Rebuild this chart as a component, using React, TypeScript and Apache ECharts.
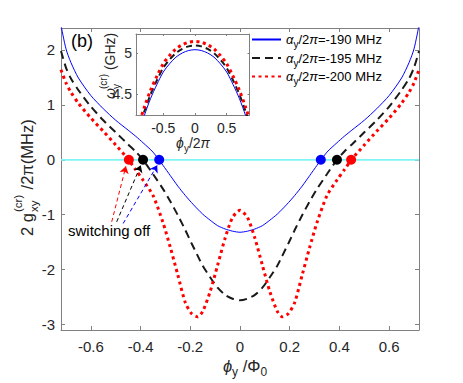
import React, { useEffect, useRef } from 'react';
import * as echarts from 'echarts';

const FONT = '"Liberation Sans", Arial, Helvetica, sans-serif';

// main panel: flux phi_y / Phi_0
const phi = [-0.72, -0.70, -0.68, -0.65, -0.60, -0.55, -0.50, -0.45, -0.42, -0.39, -0.35, -0.31, -0.28, -0.25, -0.22, -0.195, -0.17, -0.15, -0.12, -0.09, -0.06, -0.03, 0, 0.03, 0.06, 0.09, 0.12, 0.15, 0.17, 0.195, 0.22, 0.25, 0.28, 0.31, 0.35, 0.39, 0.42, 0.45, 0.50, 0.55, 0.60, 0.65, 0.68, 0.70, 0.72];
const g190 = [2.45, 2.02, 1.77, 1.49, 1.17, 0.93, 0.72, 0.54, 0.43, 0.31, 0.14, -0.10, -0.29, -0.48, -0.65, -0.78, -0.90, -0.99, -1.10, -1.20, -1.26, -1.30, -1.32, -1.30, -1.26, -1.20, -1.10, -0.99, -0.90, -0.78, -0.65, -0.48, -0.29, -0.10, 0.14, 0.31, 0.43, 0.54, 0.72, 0.93, 1.17, 1.49, 1.77, 2.02, 2.45];
const g195 = [1.98, 1.68, 1.48, 1.27, 0.97, 0.72, 0.50, 0.28, 0.15, 0, -0.26, -0.53, -0.76, -1.01, -1.28, -1.52, -1.75, -1.93, -2.14, -2.33, -2.46, -2.53, -2.56, -2.53, -2.46, -2.33, -2.14, -1.93, -1.75, -1.52, -1.28, -1.01, -0.76, -0.53, -0.26, 0, 0.15, 0.28, 0.50, 0.72, 0.97, 1.27, 1.48, 1.68, 1.98];
const g200 = [1.64, 1.40, 1.23, 1.03, 0.76, 0.52, 0.27, 0.01, -0.18, -0.37, -0.65, -1.14, -1.60, -2.10, -2.60, -2.80, -2.86, -2.76, -2.40, -1.92, -1.43, -1.05, -0.92, -1.05, -1.43, -1.92, -2.40, -2.76, -2.86, -2.80, -2.60, -2.10, -1.60, -1.14, -0.65, -0.37, -0.18, 0.01, 0.27, 0.52, 0.76, 1.03, 1.23, 1.40, 1.64];

// switching-off points (zero crossings)
const off190 = [-0.325, 0.325];
const off195 = [-0.39, 0.39];
const off200 = [-0.447, 0.447];
const zeroLine = [-0.72, 0.72];

// arrows: from text to points
const arrowFrom = [[-0.516, -1.13], [-0.496, -1.13], [-0.470, -1.16]];
const arrowTo = [[-0.459, -0.12], [-0.399, -0.10], [-0.333, -0.10]];
const arrowColors = ['#ff0000', '#000000', '#0000ff'];

// inset: omega_y^(cr) vs phi_y/2pi
const phiInset = [-0.9, -0.8, -0.7, -0.6, -0.5, -0.4, -0.3, -0.2, -0.1, 0, 0.1, 0.2, 0.3, 0.4, 0.5, 0.6, 0.7, 0.8, 0.9];
const w190 = [4.00, 4.24, 4.45, 4.62, 4.77, 4.87, 4.95, 5.00, 5.03, 5.04, 5.03, 5.00, 4.95, 4.87, 4.77, 4.62, 4.45, 4.24, 4.00];
const w195 = [4.05, 4.29, 4.50, 4.67, 4.82, 4.92, 5.00, 5.05, 5.08, 5.09, 5.08, 5.05, 5.00, 4.92, 4.82, 4.67, 4.50, 4.29, 4.05];
const w200 = [4.10, 4.34, 4.55, 4.72, 4.87, 4.97, 5.05, 5.10, 5.13, 5.14, 5.13, 5.10, 5.05, 4.97, 4.87, 4.72, 4.55, 4.34, 4.10];

const seriesNames = ['-190 MHz', '-195 MHz', '-200 MHz'];

const AX = '#808080';
const TXT = '#262626';

const pairs = (xs: number[], ys: number[]) => xs.map((x, i) => [x, ys[i]]);
const multipleOf = (v: number, s: number) => Math.abs(v / s - Math.round(v / s)) < 1e-6;
const fmt = (v: number) => String(+v.toFixed(1));

function axisCommon(grid: number, min: number, max: number, split: number, tickLen: number) {
  return {
    type: 'value',
    gridIndex: grid,
    min,
    max,
    splitNumber: split,
    axisLine: { show: true, onZero: false, lineStyle: { color: AX, width: 1 } },
    axisTick: { show: true, inside: true, length: tickLen, lineStyle: { color: AX, width: 1 } },
    splitLine: { show: false },
    minorTick: { show: false },
  };
}

export default function App() {
  const ref = useRef<HTMLDivElement>(null);
  useEffect(() => {
    document.body.style.margin = '0';
    const chart = echarts.init(ref.current!, null, { renderer: 'svg' });
    const mainLine = (name: string, ys: number[], color: string, width: number, type: any) => ({
      name,
      type: 'line',
      xAxisIndex: 0,
      yAxisIndex: 0,
      data: pairs(phi, ys),
      showSymbol: false,
      symbol: 'none',
      smooth: 0.25,
      clip: true,
      z: 2,
      lineStyle: { color, width, type, cap: 'butt' },
      itemStyle: { color },
    });
    const insetLine = (name: string, ys: number[], color: string, width: number, type: any) => ({
      name,
      type: 'line',
      xAxisIndex: 2,
      yAxisIndex: 2,
      data: pairs(phiInset, ys),
      showSymbol: false,
      symbol: 'none',
      smooth: 0.3,
      clip: true,
      z: 6,
      lineStyle: { color, width, type, cap: 'butt' },
    });
    const dots = (xs: number[], color: string) => ({
      type: 'scatter',
      xAxisIndex: 0,
      yAxisIndex: 0,
      data: xs.map((x) => [x, 0]),
      symbol: 'circle',
      symbolSize: 10,
      z: 4,
      itemStyle: { color, opacity: 1 },
      silent: true,
    });

    const option: any = {
      animation: false,
      backgroundColor: '#ffffff',
      textStyle: { fontFamily: FONT },
      grid: [
        { left: 61, top: 28, width: 358, height: 302, outerBoundsMode: 'none', containLabel: false },
        { left: 136, top: 34, width: 113.5, height: 81, outerBoundsMode: 'none', containLabel: false, show: true, backgroundColor: '#ffffff', borderWidth: 0, z: 3 },
      ],
      xAxis: [
        {
          ...axisCommon(0, -0.72, 0.72, 7, 4),
          position: 'bottom',
          axisLabel: { show: true, margin: 9, fontSize: 15, color: TXT, fontFamily: FONT, formatter: (v: number) => (multipleOf(v, 0.2) ? fmt(v) : '') },
        },
        { ...axisCommon(0, -0.72, 0.72, 7, 4), position: 'top', axisLabel: { show: false } },
        {
          ...axisCommon(1, -0.93, 0.86, 3, 2),
          position: 'bottom',
          z: 5,
          axisLabel: { show: true, margin: 6, fontSize: 14, color: TXT, fontFamily: FONT, formatter: (v: number) => (multipleOf(v, 0.5) ? fmt(v) : '') },
        },
        { ...axisCommon(1, -0.93, 0.86, 3, 2), position: 'top', z: 5, axisLabel: { show: false } },
      ],
      yAxis: [
        {
          ...axisCommon(0, -3.1, 2.4, 5, 4),
          position: 'left',
          axisLabel: { show: true, margin: 6, fontSize: 15, color: TXT, fontFamily: FONT, formatter: (v: number) => (multipleOf(v, 1) ? String(Math.round(v)) : '') },
        },
        { ...axisCommon(0, -3.1, 2.4, 5, 4), position: 'right', axisLabel: { show: false } },
        {
          ...axisCommon(1, 4.25, 5.23, 2, 2),
          position: 'left',
          z: 5,
          axisLabel: { show: true, margin: 4, fontSize: 14, color: TXT, fontFamily: FONT, formatter: (v: number) => (multipleOf(v, 0.5) ? fmt(v) : '') },
        },
        { ...axisCommon(1, 4.25, 5.23, 2, 2), position: 'right', z: 5, axisLabel: { show: false } },
      ],
      legend: {
        data: seriesNames,
        orient: 'vertical',
        left: 251,
        top: 33,
        padding: 0,
        itemGap: 2,
        itemWidth: 29,
        itemHeight: 12,
        selectedMode: false,
        itemStyle: { opacity: 0, borderWidth: 0 },
        formatter: (name: string) => `{i|α}{s|y}{a|/2}{i|π}{a|=${name}}`,
        textStyle: {
          fontFamily: FONT,
          fontSize: 13,
          color: '#000',
          rich: {
            a: { fontFamily: FONT, fontSize: 13, lineHeight: 20, color: '#000' },
            i: { fontFamily: FONT, fontSize: 13, fontStyle: 'italic', lineHeight: 20, color: '#000' },
            s: { fontFamily: FONT, fontSize: 10, lineHeight: 10, verticalAlign: 'bottom', color: '#000' },
          },
        },
      },
      series: [
        {
          name: 'zero',
          type: 'line',
          xAxisIndex: 0,
          yAxisIndex: 0,
          data: zeroLine.map((x) => [x, 0]),
          showSymbol: false,
          symbol: 'none',
          z: 1,
          lineStyle: { color: '#80f4f4', width: 1.8 },
          markLine: {
            silent: true,
            animation: false,
            symbol: ['none', 'arrow'],
            symbolSize: 7,
            label: { show: false },
            data: arrowFrom.map((f, i) => [
              { coord: f, lineStyle: { color: arrowColors[i], type: [4, 3], width: 1 }, itemStyle: { color: arrowColors[i] } },
              { coord: arrowTo[i] },
            ]),
          },
        },
        mainLine(seriesNames[0], g190, '#0000ff', 1, 'solid'),
        mainLine(seriesNames[1], g195, '#1a1a1a', 2, [8, 5]),
        mainLine(seriesNames[2], g200, '#ff0000', 3, [3, 3.5]),
        dots(off190, '#0000ff'),
        dots(off195, '#000000'),
        dots(off200, '#ff0000'),
        insetLine('i190', w190, '#0000ff', 1, 'solid'),
        insetLine('i195', w195, '#1a1a1a', 2, [6, 4]),
        insetLine('i200', w200, '#ff0000', 3, [3, 3.5]),
      ],
      graphic: [
        { type: 'text', left: 71, top: 32, z: 10, style: { text: '(b)', font: `18px ${FONT}`, fill: '#000' } },
        { type: 'text', x: 68, y: 230, z: 10, style: { text: 'switching off', font: `15px ${FONT}`, fill: '#000', textAlign: 'left', textVerticalAlign: 'middle' } },
        {
          type: 'text', x: 245, y: 366, z: 10,
          style: {
            text: '{i|ϕ}{s|y}{n| /Φ}{s|0}',
            textAlign: 'center', textVerticalAlign: 'middle', fill: TXT,
            rich: {
              i: { font: `italic 16.5px ${FONT}`, lineHeight: 24, fill: TXT },
              n: { font: `16.5px ${FONT}`, lineHeight: 24, fill: TXT },
              s: { font: `12px ${FONT}`, lineHeight: 12, verticalAlign: 'bottom', fill: TXT },
            },
          },
        },
        {
          type: 'text', x: 193, y: 143, z: 10,
          style: {
            text: '{i|ϕ}{s|y}{n|/2}{i|π}',
            textAlign: 'center', textVerticalAlign: 'middle', fill: TXT,
            rich: {
              i: { font: `italic 14px ${FONT}`, lineHeight: 20, fill: TXT },
              n: { font: `14px ${FONT}`, lineHeight: 20, fill: TXT },
              s: { font: `10px ${FONT}`, lineHeight: 10, verticalAlign: 'bottom', fill: TXT },
            },
          },
        },
        {
          type: 'group', x: 27, y: 179, rotation: Math.PI / 2, z: 10,
          children: [
            { type: 'text', x: -57, y: 0, style: { text: '2 g', font: `16.5px ${FONT}`, fill: TXT, textAlign: 'left', textVerticalAlign: 'middle' } },
            { type: 'text', x: -33, y: -9, style: { text: '(cr)', font: `11.5px ${FONT}`, fill: TXT, textAlign: 'left', textVerticalAlign: 'middle' } },
            { type: 'text', x: -33, y: 7, style: { text: 'xy', font: `11.5px ${FONT}`, fill: TXT, textAlign: 'left', textVerticalAlign: 'middle' } },
            { type: 'text', x: -15, y: 0, style: { text: ' /2π(MHz)', font: `16.5px ${FONT}`, fill: TXT, textAlign: 'left', textVerticalAlign: 'middle' } },
          ],
        },
        {
          type: 'group', x: 110, y: 66, rotation: Math.PI / 2, z: 10,
          children: [
            { type: 'text', x: -33, y: 0, style: { text: 'ω', font: `italic 14px ${FONT}`, fill: TXT, textAlign: 'left', textVerticalAlign: 'middle' } },
            { type: 'text', x: -23, y: -7, style: { text: '(cr)', font: `10px ${FONT}`, fill: TXT, textAlign: 'left', textVerticalAlign: 'middle' } },
            { type: 'text', x: -23, y: 6, style: { text: 'y', font: `10px ${FONT}`, fill: TXT, textAlign: 'left', textVerticalAlign: 'middle' } },
            { type: 'text', x: -8, y: 0, style: { text: ' (GHz)', font: `14px ${FONT}`, fill: TXT, textAlign: 'left', textVerticalAlign: 'middle' } },
          ],
        },
      ],
    };
    chart.setOption(option);
    return () => chart.dispose();
  }, []);
  return <div ref={ref} style={{ position: 'fixed', left: 0, top: 0, width: 463, height: 383, background: '#fff' }} />;
}
